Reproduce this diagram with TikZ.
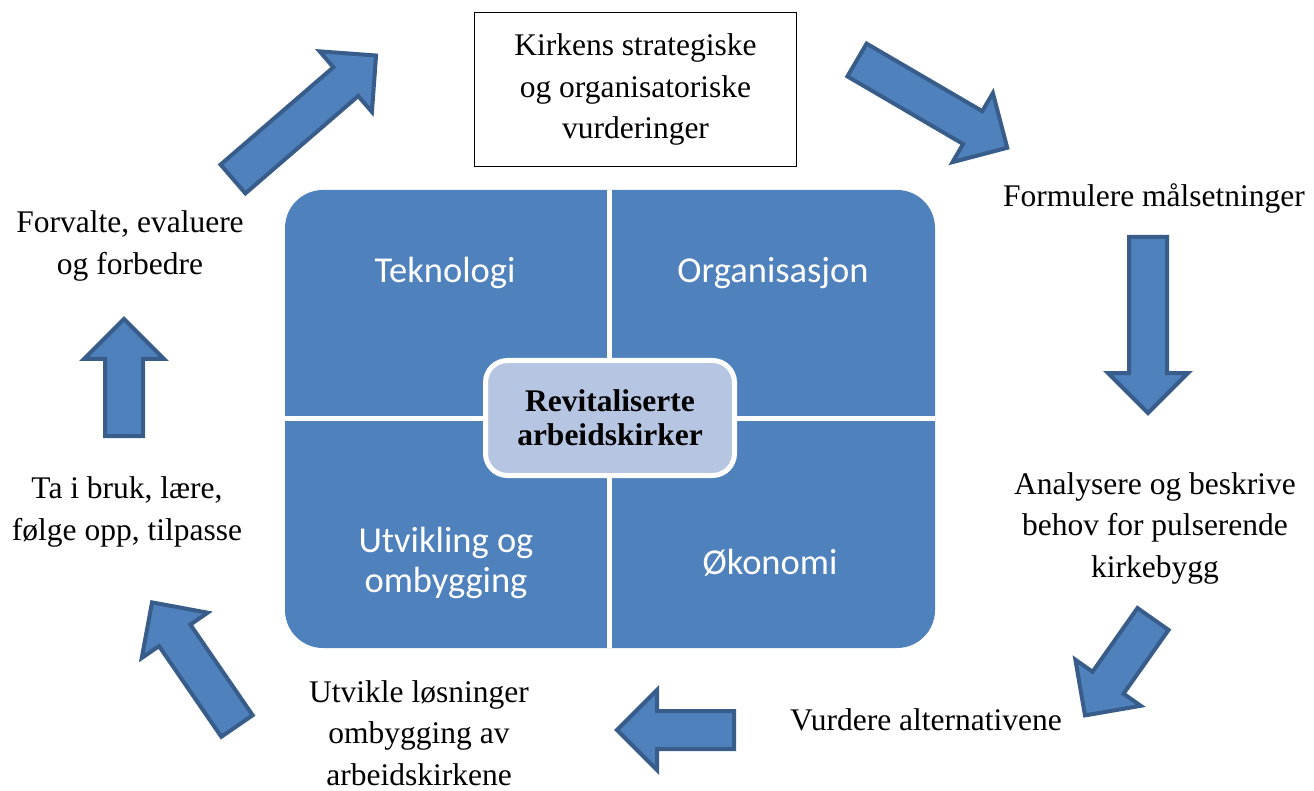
\documentclass[tikz,border=0pt]{standalone}
\usepackage{fontspec}
\setmainfont{Liberation Serif}
\newfontfamily\calibri{Carlito}
\definecolor{blokkfyll}{HTML}{4F81BD}
\definecolor{blokkkant}{HTML}{385D8A}
\definecolor{midtfyll}{RGB}{182,198,226}
\begin{document}
\begin{tikzpicture}[x=1pt,y=-1pt,
    pics/blokkpil/.style={code={
      \draw[draw=blokkkant,fill=blokkfyll,line width=4pt,line join=miter]
        (0,-19) -- (#1-40,-19) -- (#1-40,-40) -- (#1,0) -- (#1-40,40)
        -- (#1-40,19) -- (0,19) -- cycle;}},
    tekst/.style={align=center,inner sep=0pt,
      font=\fontsize{31.5}{41.5}\selectfont},
    felt/.style={align=center,inner sep=0pt,text=white,
      font=\calibri\fontsize{36.5}{40}\selectfont}]
  \useasboundingbox (0,0) rectangle (1314,791);
  % midtfeltet
  \fill[blokkfyll,rounded corners=38pt] (285,190) rectangle (935,648);
  \draw[white,line width=5pt] (609.5,190) -- (609.5,648);
  \draw[white,line width=5pt] (285,418) -- (935,418);
  \node[felt] (tek) at (445,273) {Teknologi};
  \node[felt] (org) at (773,273) {Organisasjon};
  \node[felt] (utv) at (446,563) {Utvikling og\\ombygging};
  \node[felt] (oko) at (770,563) {Økonomi};
  \node[tekst,font=\bfseries\fontsize{31.5}{34}\selectfont,fill=midtfyll,
    draw=white,line width=5pt,rounded corners=22pt,
    minimum width=249pt,minimum height=115pt] (revit) at (610,418)
    {Revitaliserte\\arbeidskirker};
  % trinnene rundt
  \node[tekst,draw,line width=1.5pt,minimum width=322pt,minimum height=154pt]
    (kirke) at (635.5,89.5) {Kirkens strategiske\\og organisatoriske\\vurderinger};
  \node[tekst] (maal) at (1154,198) {Formulere målsetninger};
  \node[tekst] (analyse) at (1155,528) {Analysere og beskrive\\behov for pulserende\\kirkebygg};
  \node[tekst] (vurdere) at (926,720) {Vurdere alternativene};
  \node[tekst] (utvikle) at (419,733) {Utvikle løsninger\\ombygging av\\arbeidskirkene};
  \node[tekst] (tabruk) at (127,512) {Ta i bruk, lære,\\følge opp, tilpasse};
  \node[tekst] (forvalte) at (130,246) {Forvalte, evaluere\\og forbedre};
  % blokkpiler
  \pic[rotate=40.8] (p1) at (233,179) {blokkpil=189};
  \pic[rotate=-30.3] (p2) at (857,60) {blokkpil=174};
  \pic[rotate=-90] (p3) at (1148,237) {blokkpil=176};
  \pic[rotate=234.8] (p4) at (1153,619) {blokkpil=118};
  \pic[rotate=180] (p5) at (734,730) {blokkpil=117};
  \pic[rotate=124.5] (p6) at (237,726) {blokkpil=150};
  \pic[rotate=90] (p7) at (124,436) {blokkpil=117};
\end{tikzpicture}
\end{document}
